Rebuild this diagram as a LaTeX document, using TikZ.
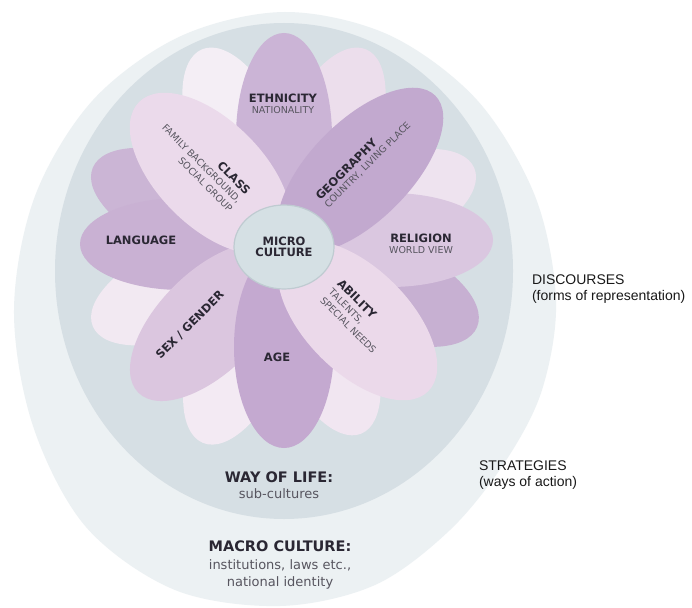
\documentclass[tikz,border=0pt]{standalone}
\usepackage{fontspec}
\setmainfont{DejaVu Sans}
\newfontfamily\arialf{Liberation Sans}
\usetikzlibrary{shapes.geometric,calc}
\definecolor{outerc}{HTML}{ECF1F3}
\definecolor{innerc}{HTML}{D6DFE4}
\definecolor{microc}{HTML}{D5E0E4}
\definecolor{microb}{HTML}{BFCBD1}
\definecolor{headc}{HTML}{2A2733}
\definecolor{subc}{HTML}{57555F}
\definecolor{bpA}{HTML}{F4EEF5}
\definecolor{bpB}{HTML}{ECDEEC}
\definecolor{bpC}{HTML}{EEE3EF}
\definecolor{bpD}{HTML}{C7B0D2}
\definecolor{bpE}{HTML}{F1E6F1}
\definecolor{bpF}{HTML}{F3EAF3}
\definecolor{bpG}{HTML}{F2E9F2}
\definecolor{bpH}{HTML}{CBB5D5}
\definecolor{ethnc}{HTML}{CBB4D6}
\definecolor{geoc}{HTML}{C2A9CF}
\definecolor{relc}{HTML}{DAC7E0}
\definecolor{abilc}{HTML}{EBD9EA}
\definecolor{agec}{HTML}{C4A9D0}
\definecolor{sexc}{HTML}{DBC6DF}
\definecolor{langc}{HTML}{C9B1D3}
\definecolor{classc}{HTML}{EBDAEB}
\newcommand{\labhead}{\fontsize{11.5}{12}\selectfont\bfseries\color{headc}}
\newcommand{\labsub}{\fontsize{9.5}{12}\selectfont\mdseries\color{subc}}
\begin{document}
\begin{tikzpicture}[x=1pt,y=1pt,
  petal/.style={ellipse, draw=none, inner sep=0pt, outer sep=0pt},
  lab/.style={inner sep=0pt, outer sep=0pt, font=\fontsize{10}{12}\selectfont},
  side/.style={inner sep=0pt, outer sep=0pt, align=left, text=black!90,
    font=\arialf\fontsize{14}{16}\selectfont}]
\useasboundingbox (0,0) rectangle (692,-607);
\fill[white] (0,0) rectangle (692,-607);
% macro culture
\fill[outerc] plot[smooth cycle, tension=0.55] coordinates {
 (285,-12) (389,-35) (477,-100) (535,-196) (556,-300) (542,-390) (505,-462)
 (450,-530) (375,-585) (280,-606) (175,-590) (86,-527) (33,-426) (14,-310)
 (35,-196) (93,-100) (181,-36)};
% way of life
\fill[innerc] (284,-271) ellipse [x radius=229pt, y radius=248pt];
\coordinate (c) at (284,-247);
% back petals
\node[petal, fill=bpA, minimum width=208pt, minimum height=96pt, rotate=112.5] (bpa) at ($(c)+(112.5:110)$) {};
\node[petal, fill=bpB, minimum width=208pt, minimum height=96pt, rotate=67.5] (bpb) at ($(c)+(67.5:110)$) {};
\node[petal, fill=bpC, minimum width=204pt, minimum height=94pt, rotate=22.5] (bpc) at ($(c)+(22.5:104)$) {};
\node[petal, fill=bpD, minimum width=206pt, minimum height=96pt, rotate=-22.5] (bpd) at ($(c)+(-22.5:106)$) {};
\node[petal, fill=bpE, minimum width=204pt, minimum height=94pt, rotate=-67.5] (bpe) at ($(c)+(-67.5:100)$) {};
\node[petal, fill=bpF, minimum width=208pt, minimum height=96pt, rotate=-112.5] (bpf) at ($(c)+(-112.5:108)$) {};
\node[petal, fill=bpG, minimum width=206pt, minimum height=94pt, rotate=-157.5] (bpg) at ($(c)+(-157.5:104)$) {};
\node[petal, fill=bpH, minimum width=206pt, minimum height=96pt, rotate=157.5] (bph) at ($(c)+(157.5:104)$) {};
% main petals
\node[petal, fill=ethnc, minimum width=208pt, minimum height=96pt, rotate=90] (ethn) at ($(c)+(90:110)$) {};
\node[petal, fill=relc, minimum width=206pt, minimum height=94pt] (rel) at (390,-240) {};
\node[petal, fill=langc, minimum width=204pt, minimum height=92pt] (lang) at (182,-244) {};
\node[petal, fill=sexc, minimum width=200pt, minimum height=100pt, rotate=-135] (sex) at ($(c)+(-135:106)$) {};
\node[petal, fill=agec, minimum width=202pt, minimum height=100pt, rotate=-90] (age) at ($(c)+(-90:100)$) {};
\node[petal, fill=classc, minimum width=202pt, minimum height=106pt, rotate=135] (class) at ($(c)+(135:104)$) {};
\node[petal, fill=geoc, minimum width=212pt, minimum height=100pt, rotate=45] (geo) at ($(c)+(45:108)$) {};
\node[petal, fill=abilc, minimum width=200pt, minimum height=104pt, rotate=-45] (abil) at ($(c)+(-45:104)$) {};
% micro culture
\node[ellipse, fill=microc, draw=microb, line width=1.2pt, minimum width=100pt, minimum height=84pt,
  inner sep=0pt, align=center, font=\labhead] (micro) at (284,-247) {MICRO\\[-1pt]CULTURE};
% petal labels
\node[lab, align=center] (tethn) at (283,-104) {{\labhead ETHNICITY}\\[-1pt]{\labsub NATIONALITY}};
\node[lab, align=right, rotate=-45, anchor=east] (tclass) at (240,-201)
  {{\labhead CLASS}\\{\labsub FAMILY BACKGROUND,}\\{\labsub SOCIAL GROUP}};
\node[lab, align=left, rotate=45, anchor=west] (tgeo) at (322,-202)
  {{\labhead GEOGRAPHY}\\[-1pt]{\labsub COUNTRY, LIVING PLACE}};
\node[lab, align=center] (trel) at (421,-244) {{\labhead RELIGION}\\[-1pt]{\labsub WORLD VIEW}};
\node[lab, align=left, rotate=-45, anchor=west] (tabil) at (331,-290)
  {{\labhead ABILITY}\\{\labsub TALENTS,}\\{\labsub SPECIAL NEEDS}};
\node[lab, font=\labhead] (tage) at (277,-357) {AGE};
\node[lab, font=\labhead, rotate=45] (tsex) at (190,-325) {SEX / GENDER};
\node[lab, font=\labhead] (tlang) at (141,-240) {LANGUAGE};
% ring labels
\node[lab, align=center, font=\fontsize{13}{16}\selectfont] (tway) at (279,-485)
  {{\fontsize{14.5}{16}\selectfont\bfseries\color{headc}WAY OF LIFE:}\\{\color{subc}sub-cultures}};
\node[lab, align=center, font=\fontsize{13}{17.5}\selectfont] (tmacro) at (280,-565)
  {{\fontsize{14.5}{16}\selectfont\bfseries\color{headc}MACRO CULTURE:}\\{\color{subc}institutions, laws etc.,}\\{\color{subc}national identity}};
% side labels
\node[side, anchor=north west] (disc) at (532,-275) {DISCOURSES\\(forms of representation)};
\node[side, anchor=north west] (strat) at (479,-461) {STRATEGIES\\(ways of action)};
\end{tikzpicture}
\end{document}
